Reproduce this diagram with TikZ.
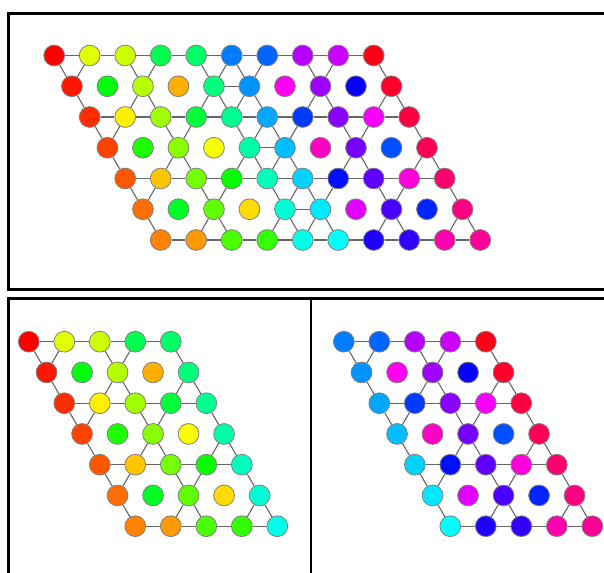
\PassOptionsToPackage{rgb}{xcolor}
\documentclass[tikz,border=0pt]{standalone}
\selectcolormodel{rgb}
\begin{document}
\begin{tikzpicture}[x=1pt,y=-1pt,
  dot/.style={circle,draw=black!50,line width=0.8pt,inner sep=0pt,minimum size=20.8pt},
  link/.style={draw=black!60,line width=1.1pt},
  frame/.style={draw=black,line width=2.7pt}]
\useasboundingbox (0,0) rectangle (604,572);
\clip (0,0) rectangle (604,572);
\draw[frame] (8.7,13.7) rectangle (630,289.5);
\draw[frame] (8.7,298.7) rectangle (311,600);
\draw[frame] (311,298.7) rectangle (630,600);
\def\karr{{0,13,14,27,28,41,42,55,56,69,
 1,24,15,8,29,40,59,54,47,68,
 2,11,16,26,30,39,44,53,58,67,
 3,22,17,12,31,38,61,52,43,66,
 4,9,18,23,32,37,46,51,60,65,
 5,25,19,10,33,36,57,50,45,64,
 6,7,20,21,34,35,48,49,62,63}}
\foreach \r in {0,...,6}{
 \foreach \c in {0,...,9}{
  \pgfmathtruncatemacro\kk{\karr[\r*10+\c]}
  \pgfmathsetmacro\hh{\kk*36/7}
  \definecolor{fc}{Hsb}{\hh,1,1}
  \node[dot,fill=fc] (t-\r-\c) at ({54.2+35.5*\c+17.75*\r},{55.5+30.75*\r}) {};
  \ifnum\c<5
   \node[dot,fill=fc] (l-\r-\c) at ({28.8+35.5*\c+17.75*\r},{341.7+30.75*\r}) {};
  \else
   \node[dot,fill=fc] (g-\r-\c) at ({343.8+35.5*(\c-5)+17.75*\r},{341.7+30.75*\r}) {};
  \fi
 }
}
\foreach \r in {0,2,4,6}{
 \foreach \c [evaluate=\c as \d using {int(\c+1)}] in {0,...,8}{
  \draw[link] (t-\r-\c) -- (t-\r-\d);
 }
 \foreach \c [evaluate=\c as \d using {int(\c+1)}] in {0,...,3}{
  \draw[link] (l-\r-\c) -- (l-\r-\d);
 }
 \foreach \c [evaluate=\c as \d using {int(\c+1)}] in {5,...,8}{
  \draw[link] (g-\r-\c) -- (g-\r-\d);
 }
}
\foreach \r in {1,3,5}{\draw[link] (t-\r-4) -- (t-\r-5);}
\foreach \r in {1,3,5}{
 \pgfmathtruncatemacro\rup{\r-1}
 \pgfmathtruncatemacro\rdn{\r+1}
 \foreach \c in {0,2,4,5,7,9}{
  \pgfmathtruncatemacro\cpl{\c+1}
  \pgfmathtruncatemacro\cmi{\c-1}
  \draw[link] (t-\r-\c) -- (t-\rup-\c);
  \draw[link] (t-\r-\c) -- (t-\rdn-\c);
  \ifnum\c<9 \draw[link] (t-\r-\c) -- (t-\rup-\cpl); \fi
  \ifnum\c>0 \draw[link] (t-\r-\c) -- (t-\rdn-\cmi); \fi
  \ifnum\c<5
    \draw[link] (l-\r-\c) -- (l-\rup-\c);
    \draw[link] (l-\r-\c) -- (l-\rdn-\c);
    \ifnum\c<4 \draw[link] (l-\r-\c) -- (l-\rup-\cpl); \fi
    \ifnum\c>0 \draw[link] (l-\r-\c) -- (l-\rdn-\cmi); \fi
  \else
    \draw[link] (g-\r-\c) -- (g-\rup-\c);
    \draw[link] (g-\r-\c) -- (g-\rdn-\c);
    \ifnum\c<9 \draw[link] (g-\r-\c) -- (g-\rup-\cpl); \fi
    \ifnum\c>5 \draw[link] (g-\r-\c) -- (g-\rdn-\cmi); \fi
  \fi
 }
}
\end{tikzpicture}
\end{document}
